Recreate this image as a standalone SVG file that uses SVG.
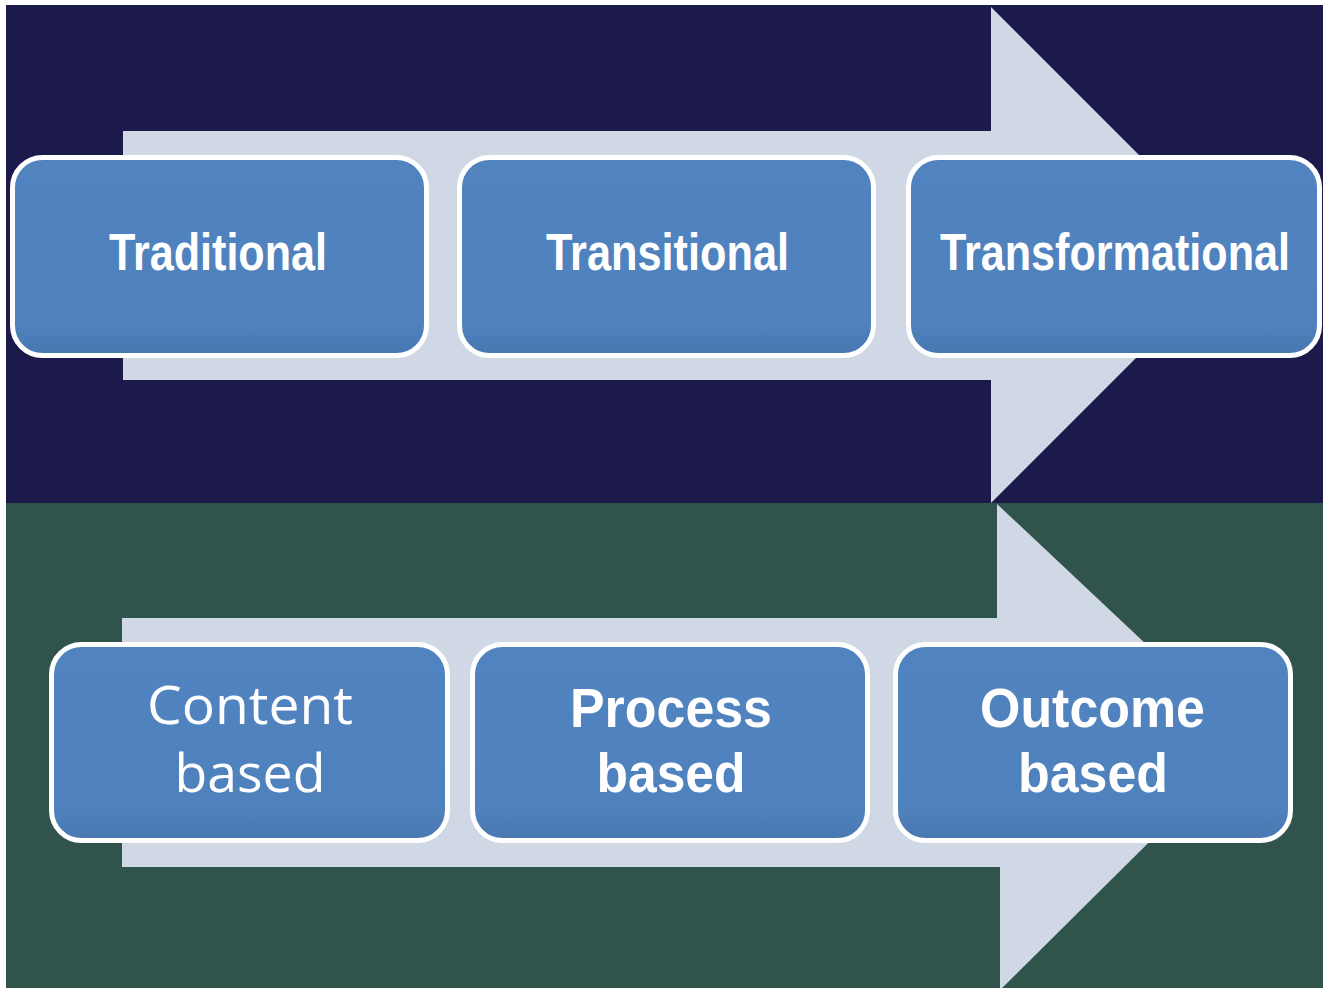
<svg xmlns="http://www.w3.org/2000/svg" width="1323" height="988" viewBox="0 0 1323 988">
  <defs>
    <linearGradient id="boxGrad" x1="0" y1="0" x2="0" y2="1">
      <stop offset="0" stop-color="#5083bf"/>
      <stop offset="0.85" stop-color="#4f81bd"/>
      <stop offset="1" stop-color="#4877b0"/>
    </linearGradient>
  </defs>
  <style>
    .box { fill: url(#boxGrad); stroke: #ffffff; stroke-width: 5; }
    .arrow { fill: #d0d8e6; }
    .lbl { fill: #ffffff; font-family: "Liberation Sans", Arial, sans-serif; font-weight: bold; text-anchor: middle; }
    .lblr { fill: #ffffff; font-family: "Open Sans", "Noto Sans", sans-serif; font-weight: normal; text-anchor: middle; }
  </style>
  <rect x="0" y="0" width="1323" height="988" fill="#ffffff"/>
  <rect x="6" y="5" width="1317" height="498" fill="#1b1a4b"/>
  <rect x="6" y="503" width="1317" height="485" fill="#30544c"/>

  <g id="connectors">
    <polygon class="arrow" points="123,131 991,131 991,7 1239,255 991,503 991,380 123,380"/>
    <polygon class="arrow" points="122,618 997,618 997,504 1250,742 1000,990 1000,867 122,867"/>
  </g>

  <g id="node-traditional">
    <rect class="box" x="12.5" y="157.5" width="414" height="198" rx="30" ry="30"/>
    <text class="lbl" x="218" y="270" font-size="52" textLength="218" lengthAdjust="spacingAndGlyphs">Traditional</text>
  </g>
  <g id="node-transitional">
    <rect class="box" x="459.5" y="157.5" width="414" height="198" rx="30" ry="30"/>
    <text class="lbl" x="667.5" y="270" font-size="52" textLength="243" lengthAdjust="spacingAndGlyphs">Transitional</text>
  </g>
  <g id="node-transformational">
    <rect class="box" x="908.5" y="157.5" width="411" height="198" rx="30" ry="30"/>
    <text class="lbl" x="1115" y="270" font-size="52" textLength="350" lengthAdjust="spacingAndGlyphs">Transformational</text>
  </g>

  <g id="node-content">
    <rect class="box" x="51.5" y="644.5" width="396" height="196" rx="30" ry="30"/>
    <text class="lblr" x="250" y="724" font-size="53" textLength="206" lengthAdjust="spacingAndGlyphs">Content</text>
    <text class="lblr" x="250" y="792" font-size="53" textLength="151" lengthAdjust="spacingAndGlyphs">based</text>
  </g>
  <g id="node-process">
    <rect class="box" x="472.5" y="644.5" width="395" height="196" rx="30" ry="30"/>
    <text class="lbl" x="671" y="727" font-size="55" textLength="202" lengthAdjust="spacingAndGlyphs">Process</text>
    <text class="lbl" x="671" y="792" font-size="55" textLength="149" lengthAdjust="spacingAndGlyphs">based</text>
  </g>
  <g id="node-outcome">
    <rect class="box" x="895.5" y="644.5" width="395" height="196" rx="30" ry="30"/>
    <text class="lbl" x="1092.5" y="727" font-size="55" textLength="225" lengthAdjust="spacingAndGlyphs">Outcome</text>
    <text class="lbl" x="1093" y="792" font-size="55" textLength="150" lengthAdjust="spacingAndGlyphs">based</text>
  </g>
</svg>
